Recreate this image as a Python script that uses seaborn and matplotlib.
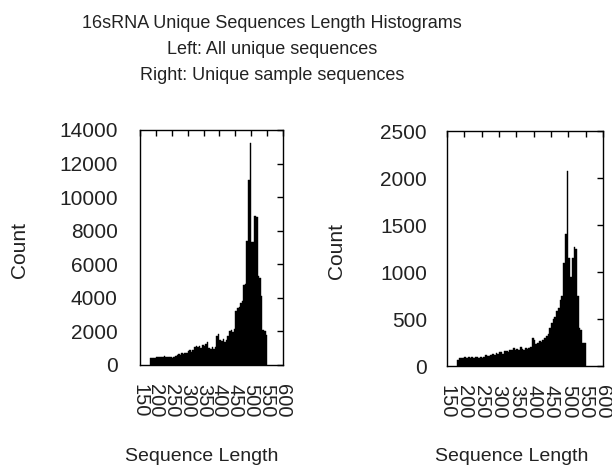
import numpy as np
import pandas as pd
import matplotlib
matplotlib.use("Agg")
import matplotlib.pyplot as plt
import seaborn as sns

# ---- data ----
bin_start = 180
bin_width = 5
all_counts = [
    400, 420, 430, 420, 480, 500, 490, 500, 490, 510,
    480, 500, 470, 480, 430, 470, 560, 600, 650, 620,
    690, 650, 720, 700, 850, 880, 800, 900, 1050, 1150,
    1100, 1150, 1020, 1180, 1120, 1250, 1380, 1000, 950, 1050,
    980, 1100, 1750, 1850, 1500, 1450, 1550, 1400, 1480, 1700,
    2000, 2080, 1980, 2150, 3200, 3400, 3450, 3700, 3800, 4750,
    4850, 7400, 11000, 13250, 7300, 7350, 8850, 8800, 5300, 5200,
    4100, 2100, 2050, 1800,
]
sample_counts = [
    60, 80, 90, 85, 100, 90, 95, 90, 92, 90,
    95, 92, 90, 95, 90, 100, 120, 110, 105, 120,
    130, 120, 140, 130, 145, 150, 130, 155, 160, 150,
    175, 165, 190, 170, 180, 175, 200, 180, 170, 195,
    185, 190, 200, 300, 280, 230, 250, 265, 260, 280,
    300, 320, 340, 400, 460, 500, 520, 590, 620, 700,
    740, 1100, 1400, 2070, 1150, 950, 1150, 1270, 1240, 740,
    400, 380, 250, 240,
]
x_ticks = [150, 200, 250, 300, 350, 400, 450, 500, 550, 600]
left_yticks = [0, 2000, 4000, 6000, 8000, 10000, 12000, 14000]
right_yticks = [0, 500, 1000, 1500, 2000, 2500]
title_lines = ["16sRNA Unique Sequences Length Histograms",
               "Left: All unique sequences",
               "Right: Unique sample sequences"]

sns.set_style("white")
plt.rcParams['font.family'] = ['Liberation Sans', 'DejaVu Sans']

n = len(all_counts)
edges = [float(bin_start + bin_width * i) for i in range(n + 1)]
centers = [bin_start + bin_width * i + bin_width / 2 for i in range(n)]

fig = plt.figure(figsize=(6.12, 4.69), dpi=100)
W, H = 612, 469

def make_ax(left_px, right_px, top_px, bottom_px):
    return fig.add_axes([left_px / W, 1 - bottom_px / H,
                         (right_px - left_px) / W, (bottom_px - top_px) / H])

ax1 = make_ax(140, 283, 130, 365)
ax2 = make_ax(447, 603, 131, 366)

TXT = "#222222"
for ax, counts, yt, ylim, cx, cy, lx, ypad in [
        (ax1, all_counts, left_yticks, 14000, 19.5, 250, 202, 16),
        (ax2, sample_counts, right_yticks, 2500, 336.5, 251, 512, 14.5)]:
    df = pd.DataFrame({"length": centers, "count": counts})
    sns.histplot(data=df, x="length", weights="count", bins=edges, ax=ax,
                 element="bars", color="black", alpha=1,
                 edgecolor="black", linewidth=0.3)
    ax.set_xlim(150, 600)
    ax.set_ylim(0, ylim)
    ax.set_xticks(x_ticks)
    ax.set_xticklabels([str(v) for v in x_ticks], rotation=-90,
                       fontsize=14.5, va="top", ha="center", color=TXT)
    ax.set_yticks(yt)
    ax.set_yticklabels([str(v) for v in yt], fontsize=15, color=TXT)
    ax.tick_params(axis="both", direction="in", length=4, width=1,
                   top=True, right=True, color="black")
    ax.tick_params(axis="y", pad=ypad)
    ax.tick_params(axis="x", pad=13.5)
    for s in ax.spines.values():
        s.set_visible(True)
        s.set_color("black")
        s.set_linewidth(1)
    ax.set_ylabel("Count", fontsize=15, color=TXT)
    ax.set_xlabel("Sequence Length", fontsize=14, color=TXT)
    pos = ax.get_position()
    ax_left = pos.x0 * W
    ax_w = pos.width * W
    ax_b = pos.y0 * H
    ax_h = pos.height * H
    ax.yaxis.set_label_coords((cx - ax_left) / ax_w, (H - cy - ax_b) / ax_h)
    ax.xaxis.set_label_coords((lx - ax_left) / ax_w, (H - 456 - ax_b) / ax_h)
    ax.xaxis.label.set_va("center")
    ax.yaxis.label.set_va("center")

for i, line in enumerate(title_lines):
    fig.text(272 / W, 1 - (23 + 26.5 * i) / H, line, ha="center", va="center",
             fontsize=13, color=TXT)

fig.savefig("out.png", dpi=100, facecolor="white")
